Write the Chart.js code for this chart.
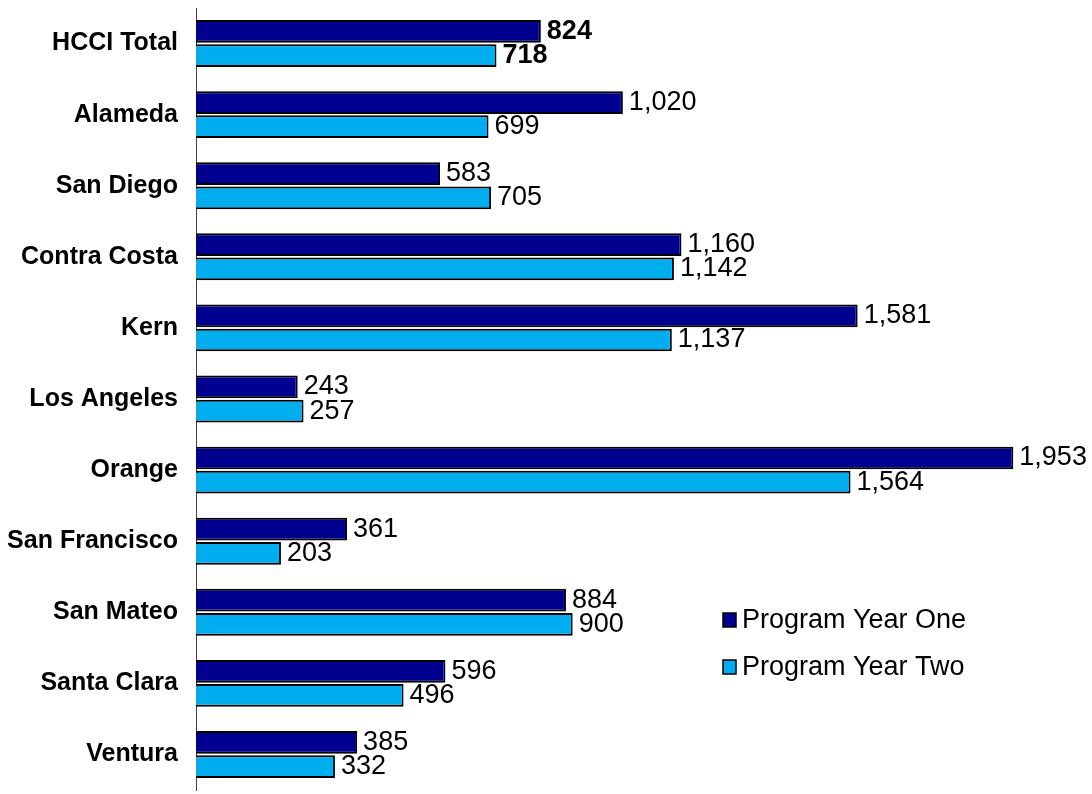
<!DOCTYPE html>
<html>
<head>
<meta charset="utf-8">
<script src="https://cdn.jsdelivr.net/npm/chart.js@4.4.1/dist/chart.umd.min.js"></script>
<style>
  html, body { margin: 0; padding: 0; background: #ffffff; }
  #wrap { width: 1092px; height: 794px; position: relative; }
</style>
</head>
<body>
<div id="wrap"><canvas id="chart"></canvas></div>
<script>
// Counties and the two program years
const counties = ['HCCI Total', 'Alameda', 'San Diego', 'Contra Costa', 'Kern', 'Los Angeles',
  'Orange', 'San Francisco', 'San Mateo', 'Santa Clara', 'Ventura'];
const yearOne = [824, 1020, 583, 1160, 1581, 243, 1953, 361, 884, 596, 385];
const yearTwo = [718, 699, 705, 1142, 1137, 257, 1564, 203, 900, 496, 332];
const seriesNames = ['Program Year One', 'Program Year Two'];

const DARK = '#000090';
const LIGHT = '#00AEEF';
const FONT = 'Arial, "Liberation Sans", sans-serif';

// Value labels at the end of each bar
const valueLabels = {
  id: 'valueLabels',
  afterDatasetsDraw(chart) {
    const ctx = chart.ctx;
    ctx.save();
    ctx.fillStyle = '#000';
    ctx.textBaseline = 'middle';
    ctx.textAlign = 'left';
    chart.data.datasets.forEach((ds, di) => {
      chart.getDatasetMeta(di).data.forEach((bar, i) => {
        ctx.font = (i === 0 ? 'bold ' : '') + '27px ' + FONT;
        ctx.fillText(ds.data[i].toLocaleString('en-US'), bar.x + 6, bar.y);
      });
    });
    ctx.restore();
  }
};

// Legend sitting inside the plot, lower right
const insideLegend = {
  id: 'insideLegend',
  afterDraw(chart) {
    const ctx = chart.ctx;
    ctx.save();
    ctx.font = '27px ' + FONT;
    ctx.textBaseline = 'middle';
    chart.data.datasets.forEach((ds, di) => {
      const y = 620 + di * 47;
      ctx.fillStyle = ds.backgroundColor;
      ctx.fillRect(723, y - 7, 13, 14);
      ctx.strokeStyle = '#000';
      ctx.lineWidth = 1.5;
      ctx.strokeRect(723, y - 7, 13, 14);
      ctx.fillStyle = '#000';
      ctx.fillText(ds.label, 742, y + 1);
    });
    ctx.restore();
  }
};

new Chart(document.getElementById('chart'), {
  type: 'bar',
  data: {
    labels: counties,
    datasets: [
      { label: seriesNames[0], data: yearOne, backgroundColor: DARK, borderColor: '#000', borderWidth: 2,
        barPercentage: 0.94, categoryPercentage: 0.68 },
      { label: seriesNames[1], data: yearTwo, backgroundColor: LIGHT, borderColor: '#000', borderWidth: 2,
        barPercentage: 0.94, categoryPercentage: 0.68 }
    ]
  },
  options: {
    indexAxis: 'y',
    responsive: true,
    maintainAspectRatio: false,
    animation: false,
    layout: { padding: { top: 8, bottom: 4, right: 59, left: 0 } },
    plugins: {
      legend: { display: false },
      tooltip: { enabled: false }
    },
    scales: {
      x: {
        min: 0,
        max: 2000,
        display: false
      },
      y: {
        afterFit(scale) {
          scale.width = 196;
          scale.paddingTop = 0;
          scale.paddingBottom = 0;
        },
        grid: { display: false, drawTicks: false },
        border: { display: true, color: '#444', width: 1 },
        ticks: {
          color: '#000',
          padding: 18,
          font: { family: FONT, size: 25, weight: 'bold' }
        }
      }
    }
  },
  plugins: [valueLabels, insideLegend]
});
</script>
</body>
</html>
